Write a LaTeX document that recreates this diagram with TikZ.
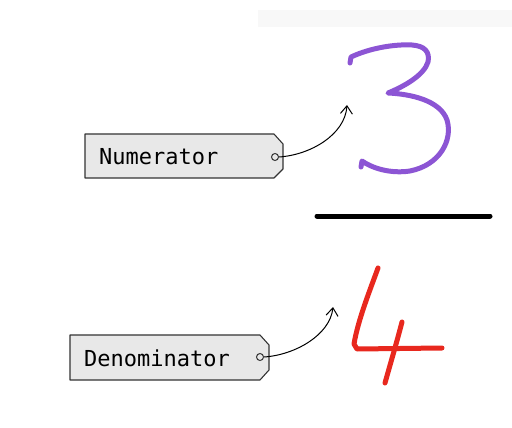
\documentclass[tikz,border=0pt]{standalone}
\usepackage{fontspec}
\setmainfont{Lato}
\newfontfamily\labelfont{DejaVu Sans Mono}
\usetikzlibrary{arrows.meta}
\definecolor{tagfill}{HTML}{E8E8E8}
\definecolor{tagline}{HTML}{333333}
\definecolor{numcol}{HTML}{8C55D4}
\definecolor{dencol}{HTML}{E8281E}
\definecolor{band}{HTML}{F8F8F8}
\tikzset{
  tagbox/.style={fill=tagfill, draw=tagline, line width=1.1pt, line join=round},
  taglabel/.style={font=\labelfont\fontsize{22}{25}\selectfont, anchor=west, inner sep=0pt},
  hole/.style={circle, draw=tagline, line width=1pt, minimum size=7pt, inner sep=0pt, fill=tagfill},
  pointer/.style={-{Straight Barb[length=8pt,width=12pt]}, line width=1pt, black},
  digit/.style={line width=5pt, line cap=round, line join=round},
}
\begin{document}
\begin{tikzpicture}[x=1pt,y=-1pt]
\useasboundingbox (0,0) rectangle (512,428);
\fill[band] (258,10) rectangle (512,27);
% Numerator tag
\path[tagbox] (85,134) -- (274,134) -- (283,144) -- (283,169) -- (274,178) -- (85,178) -- cycle;
\node[taglabel] (num) at (99,157) {Numerator};
\node[hole] (numhole) at (275,157) {};
\coordinate (numtip) at (347,105);
\draw[pointer] (numhole.east) .. controls (310,155) and (345,135) .. (numtip);
% Denominator tag
\path[tagbox] (70,335) -- (260,335) -- (269,345) -- (269,370) -- (260,380) -- (70,380) -- cycle;
\node[taglabel] (den) at (84,358) {Denominator};
\node[hole] (denhole) at (260,357) {};
\coordinate (dentip) at (333,307);
\draw[pointer] (denhole.east) .. controls (295,355) and (330,335) .. (dentip);
% fraction bar
\draw[line width=5pt, line cap=round] (317,216) -- (490,216);
% digit 3
\draw[digit, numcol] (350,63) -- (351,57) .. controls (370,48) and (395,44) .. (412,45)
  .. controls (425,46) and (430,52) .. (428,62)
  .. controls (424,75) and (405,86) .. (388,93)
  .. controls (410,94) and (440,100) .. (447,120)
  .. controls (453,140) and (440,165) .. (410,171)
  .. controls (390,174) and (372,168) .. (362,161) -- (361,167);
% digit 4
\draw[digit, dencol] (378,268) .. controls (370,290) and (358,320) .. (354,344) -- (357,349) -- (442,348);
\draw[digit, dencol] (402,322) .. controls (396,345) and (390,365) .. (385,383);
\end{tikzpicture}
\end{document}
